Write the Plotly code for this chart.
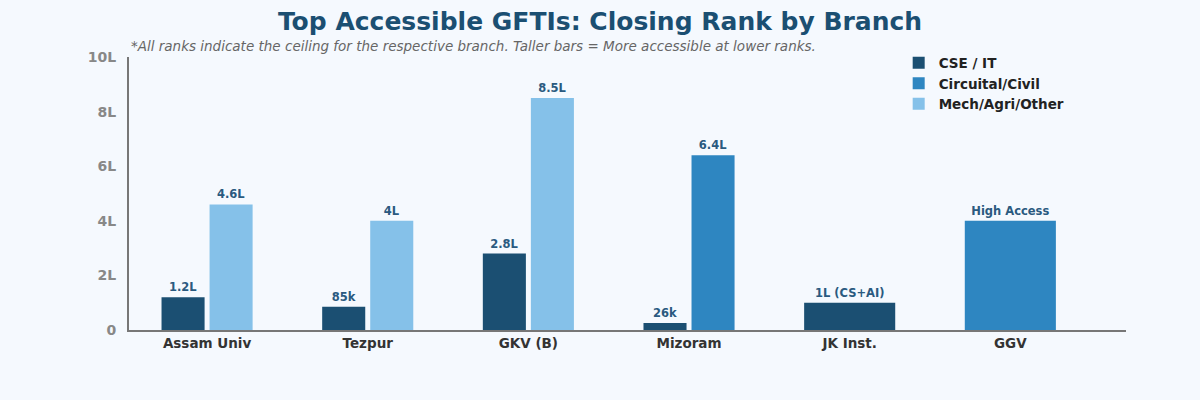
import plotly.graph_objects as go

categories = ["Assam Univ", "Tezpur", "GKV (B)", "Mizoram", "JK Inst.", "GGV"]
series_names = ["CSE / IT", "Circuital/Civil", "Mech/Agri/Other"]
cse_it = [1.2, 0.85, 2.8, 0.26, 1.0, None]
circuital_civil = [None, None, None, 6.4, None, 4.0]
mech_agri_other = [4.6, 4.0, 8.5, None, None, None]
cse_labels = ["1.2L", "85k", "2.8L", "26k", "1L (CS+AI)", None]
circ_labels = [None, None, None, "6.4L", None, "High Access"]
mech_labels = ["4.6L", "4L", "8.5L", None, None, None]
y_tick_vals = [0, 2, 4, 6, 8, 10]
y_tick_text = ["0", "2L", "4L", "6L", "8L", "10L"]

colors = ["#1B4F72", "#2E86C1", "#85C1E9"]
all_series = [cse_it, circuital_civil, mech_agri_other]
all_labels = [cse_labels, circ_labels, mech_labels]

GROUP = 0.567
GAP = 0.031

fig = go.Figure()
for s_idx, (name, vals, labs, col) in enumerate(zip(series_names, all_series, all_labels, colors)):
    xs, ys, ts, offs, wids = [], [], [], [], []
    for c_idx, cat in enumerate(categories):
        v = vals[c_idx]
        if v is None:
            continue
        present = [i for i in range(len(all_series)) if all_series[i][c_idx] is not None]
        n = len(present)
        pos = present.index(s_idx)
        w = (GROUP - GAP * (n - 1)) / n
        off = -GROUP / 2 + pos * (w + GAP)
        xs.append(cat)
        ys.append(v)
        ts.append(labs[c_idx])
        offs.append(off)
        wids.append(w)
    fig.add_trace(go.Bar(
        name=name, x=xs, y=ys, text=ts, offset=offs, width=wids,
        marker=dict(color=col, line=dict(width=0)),
        textposition="outside", constraintext="none", cliponaxis=False,
        textfont=dict(family="DejaVu Sans", size=11.5, color="#2A5A80", weight="bold"),
        hoverinfo="skip",
    ))

fig.update_layout(
    width=1200, height=400,
    barmode="overlay",
    paper_bgcolor="#F5F9FE", plot_bgcolor="#F5F9FE",
    margin=dict(l=129, r=74, t=57, b=70),
    title=dict(
        text="<b>Top Accessible GFTIs: Closing Rank by Branch</b>",
        x=0.5, xref="container", xanchor="center",
        y=0.947, yref="container", yanchor="middle",
        font=dict(family="DejaVu Sans", size=25, color="#1B4F72"),
    ),
    showlegend=True,
    legend=dict(
        x=0.772, y=1.035, xanchor="left", yanchor="top",
        bgcolor="rgba(0,0,0,0)",
        font=dict(family="DejaVu Sans", size=13.5, color="#222222", weight="bold"),
        tracegroupgap=0, itemwidth=30,
    ),
    annotations=[dict(
        text="<i>*All ranks indicate the ceiling for the respective branch. Taller bars = More accessible at lower ranks.</i>",
        xref="paper", yref="paper", x=0, y=1.042, xanchor="left", yanchor="middle",
        showarrow=False, font=dict(family="DejaVu Sans", size=13.5, color="#666666"),
    )],
)
fig.update_xaxes(
    type="category", categoryorder="array", categoryarray=categories,
    range=[-0.486, 5.72],
    showline=True, linecolor="#777777", linewidth=2,
    showgrid=False, zeroline=False, ticks="",
    tickfont=dict(family="DejaVu Sans", size=13.5, color="#333333", weight="bold"),
)
fig.update_yaxes(
    range=[0, 10], tickvals=y_tick_vals, ticktext=y_tick_text,
    showline=True, linecolor="#777777", linewidth=2,
    showgrid=False, zeroline=False, ticks="", ticklabelstandoff=8,
    tickfont=dict(family="DejaVu Sans", size=14, color="#888888", weight="bold"),
)

fig.write_html("out.html")
